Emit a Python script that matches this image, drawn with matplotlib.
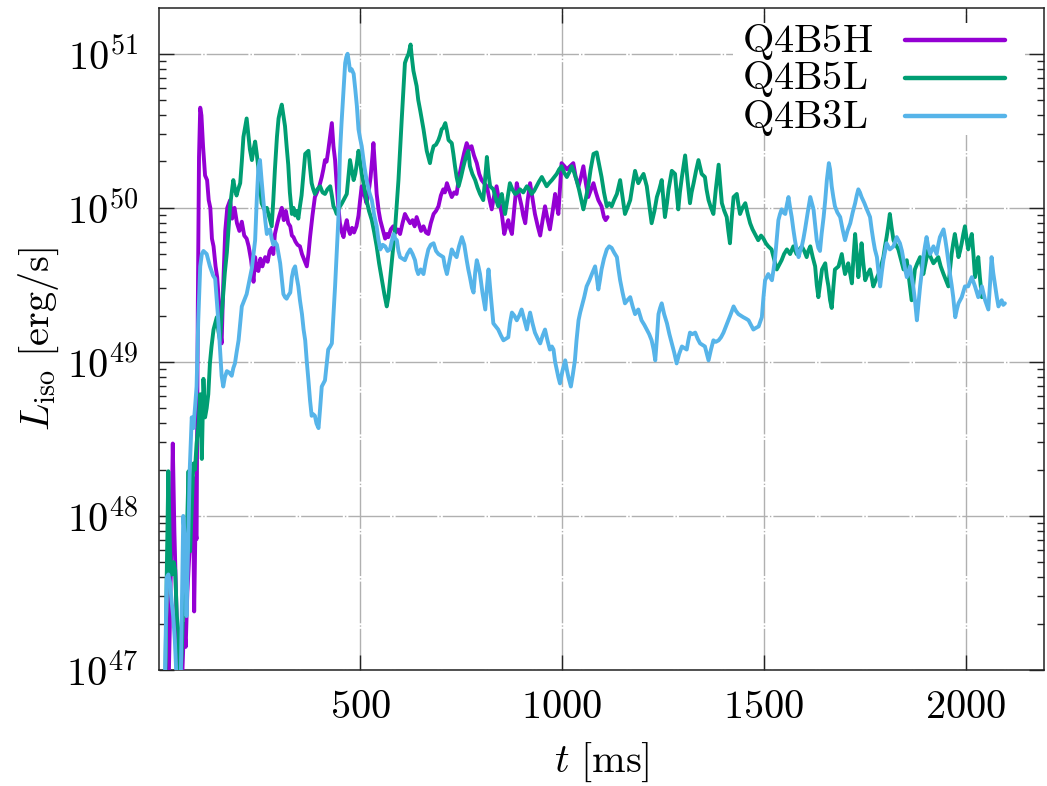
import numpy as np
import matplotlib
matplotlib.use("Agg")
import matplotlib.pyplot as plt
from matplotlib.patches import Rectangle
from matplotlib.ticker import FixedLocator, FuncFormatter, LogLocator, NullFormatter

# ---- isotropic-equivalent luminosity histories: t [ms], log10(L_iso / erg s^-1) ----
t_q4b5h = [25, 31, 36, 40, 45, 50, 54, 60, 64, 68, 72, 77, 82, 86, 89, 92, 95, 98, 101, 104,
           107, 111, 116, 121, 125, 129, 133, 137, 142, 146, 150, 154, 157, 161, 166, 171, 178, 183, 189, 195,
           201, 207, 213, 219, 224, 230, 236, 240, 244, 248, 253, 258, 265, 271, 276, 281, 285, 289, 295, 300,
           306, 311, 316, 322, 327, 331, 335, 340, 345, 351, 356, 362, 368, 372, 376, 382, 388, 393, 399, 405,
           409, 413, 417, 421, 425, 430, 434, 438, 442, 446, 450, 455, 459, 463, 467, 471, 475, 480, 485, 491,
           496, 500, 504, 508, 512, 516, 521, 526, 530, 533, 537, 541, 546, 550, 554, 558, 562, 566, 570, 576,
           582, 588, 593, 599, 605, 611, 617, 624, 630, 635, 640, 645, 651, 657, 663, 669, 675, 682, 688, 694,
           700, 706, 710, 715, 720, 727, 733, 739, 745, 752, 758, 764, 770, 776, 782, 789, 795, 801, 807, 814,
           820, 826, 832, 838, 844, 851, 857, 862, 867, 871, 876, 882, 888, 894, 900, 904, 909, 915, 921, 927,
           933, 940, 946, 952, 958, 964, 970, 977, 983, 987, 991, 995, 999, 1006, 1012, 1020, 1028, 1034, 1041, 1047,
           1053, 1059, 1065, 1072, 1078, 1084, 1090, 1098, 1104, 1108, 1113]
lg_q4b5h = [46.8, 47.6, 48.47, 47.9, 47.4, 47.0, 46.8, 47.0, 47.3, 47.15, 47.5, 47.75, 47.9, 48.25, 47.38, 47.9, 47.85, 49.34, 50.33, 50.65,
            50.6, 50.4, 50.21, 50.18, 50.05, 50.0, 49.8, 49.75, 49.62, 49.55, 49.4, 49.2, 49.12, 49.5, 49.85, 50.0, 50.05, 49.93, 50.0, 49.9,
            49.85, 49.91, 49.82, 49.8, 49.75, 49.66, 49.52, 49.68, 49.6, 49.59, 49.67, 49.62, 49.68, 49.65, 49.72, 49.74, 49.7, 49.83, 49.9, 49.95,
            50.0, 49.92, 49.98, 49.9, 49.88, 49.82, 49.81, 49.78, 49.76, 49.75, 49.7, 49.66, 49.62, 49.7, 49.81, 49.95, 50.07, 50.1, 50.14, 50.2,
            50.25, 50.31, 50.3, 50.37, 50.45, 50.55, 50.4, 50.31, 50.15, 50.01, 49.9, 49.84, 49.81, 49.88, 49.92, 49.86, 49.83, 49.87, 49.84, 49.88,
            49.95, 50.05, 50.14, 50.1, 50.07, 50.03, 50.1, 50.2, 50.32, 50.42, 50.25, 50.09, 49.98, 49.92, 49.88, 49.84, 49.8, 49.83, 49.81, 49.86,
            49.88, 49.84, 49.86, 49.83, 49.9, 49.96, 49.93, 49.9, 49.92, 49.88, 49.94, 49.9, 49.85, 49.88, 49.84, 49.83, 49.9, 49.96, 49.98, 50.01,
            50.08, 50.12, 50.1, 50.16, 50.12, 50.07, 50.1, 50.09, 50.2, 50.29, 50.36, 50.42, 50.38, 50.4, 50.34, 50.29, 50.22, 50.18, 50.16, 50.14,
            50.06, 49.99, 50.08, 50.14, 50.05, 49.96, 49.83, 49.88, 49.92, 49.87, 49.83, 50.0, 50.16, 50.08, 50.01, 49.95, 49.9, 50.05, 50.16, 50.06,
            49.96, 49.88, 49.82, 49.92, 50.01, 49.93, 49.86, 49.98, 50.09, 50.02, 49.96, 50.12, 50.29, 50.27, 50.25, 50.27, 50.29, 50.2, 50.14, 50.2,
            50.27, 50.16, 50.07, 50.12, 50.16, 50.1, 50.05, 50.01, 49.94, 49.92, 49.94]

t_q4b5l = [17, 21, 25, 28, 31, 34, 38, 42, 46, 50, 54, 58, 62, 67, 71, 75, 79, 83, 87, 91,
           95, 100, 104, 108, 112, 116, 120, 124, 128, 132, 137, 141, 145, 149, 153, 157, 161, 165, 170, 174,
           178, 182, 186, 190, 194, 198, 203, 207, 211, 215, 219, 223, 227, 232, 236, 240, 244, 248, 252, 256,
           261, 265, 269, 273, 277, 281, 285, 289, 294, 298, 302, 306, 310, 314, 318, 322, 326, 331, 335, 339,
           343, 347, 351, 355, 359, 364, 368, 372, 376, 380, 384, 388, 394, 401, 407, 413, 419, 426, 430, 434,
           438, 442, 448, 455, 461, 467, 471, 475, 479, 484, 488, 492, 496, 500, 504, 510, 516, 522, 529, 535,
           541, 547, 554, 560, 566, 570, 574, 580, 587, 591, 595, 599, 603, 607, 611, 615, 620, 625, 628, 632,
           636, 640, 644, 649, 653, 657, 661, 665, 669, 673, 677, 682, 688, 694, 698, 702, 706, 711, 715, 719,
           723, 727, 731, 735, 739, 744, 750, 756, 762, 768, 772, 778, 785, 791, 797, 805, 810, 814, 818, 822,
           830, 836, 842, 846, 851, 855, 859, 865, 871, 877, 884, 890, 896, 904, 913, 919, 925, 931, 937, 943,
           950, 956, 962, 968, 975, 981, 987, 993, 999, 1005, 1012, 1018, 1024, 1030, 1036, 1042, 1048, 1053, 1059, 1065,
           1071, 1078, 1086, 1092, 1098, 1104, 1111, 1117, 1123, 1129, 1136, 1144, 1150, 1156, 1162, 1169, 1175, 1181, 1189, 1195,
           1202, 1210, 1216, 1222, 1229, 1235, 1241, 1247, 1255, 1260, 1264, 1272, 1280, 1284, 1288, 1292, 1297, 1305, 1311, 1317,
           1321, 1326, 1332, 1338, 1346, 1354, 1358, 1363, 1369, 1375, 1381, 1388, 1392, 1396, 1402, 1408, 1412, 1416, 1420, 1425,
           1433, 1437, 1441, 1447, 1454, 1460, 1466, 1472, 1478, 1486, 1493, 1499, 1505, 1511, 1519, 1526, 1532, 1538, 1544, 1550,
           1557, 1565, 1573, 1581, 1588, 1594, 1600, 1606, 1610, 1615, 1621, 1627, 1631, 1635, 1640, 1644, 1652, 1656, 1660, 1664,
           1668, 1672, 1676, 1685, 1693, 1697, 1701, 1705, 1709, 1714, 1718, 1722, 1726, 1730, 1734, 1738, 1742, 1746, 1751, 1757,
           1763, 1767, 1771, 1777, 1784, 1790, 1796, 1800, 1804, 1808, 1812, 1816, 1821, 1827, 1833, 1840, 1846, 1850, 1854, 1860,
           1866, 1870, 1874, 1880, 1887, 1891, 1895, 1901, 1907, 1913, 1920, 1926, 1932, 1938, 1945, 1951, 1957, 1961, 1965, 1969,
           1973, 1978, 1982, 1986, 1990, 1994, 1998, 2002, 2006, 2010, 2015, 2019, 2023, 2027, 2031, 2035, 2040]
lg_q4b5l = [46.8, 47.6, 48.29, 47.9, 47.62, 47.62, 47.7, 47.65, 47.35, 47.25, 46.9, 47.1, 47.42, 47.7, 47.89, 48.29, 47.77, 48.05, 48.34, 48.3,
            48.47, 48.6, 48.79, 48.37, 48.89, 48.64, 48.7, 48.79, 48.99, 49.1, 49.21, 49.25, 49.29, 49.2, 49.14, 49.3, 49.44, 49.58, 49.71, 49.86,
            50.01, 50.1, 50.18, 50.12, 50.08, 50.12, 50.16, 50.3, 50.46, 50.52, 50.58, 50.48, 50.38, 50.31, 50.38, 50.43, 50.35, 50.26, 50.15, 50.03,
            50.0, 49.98, 50.0, 49.96, 49.92, 49.88, 50.05, 50.25, 50.46, 50.58, 50.63, 50.67, 50.6, 50.53, 50.4, 50.28, 50.1, 49.96, 50.0, 49.95,
            49.98, 49.93, 50.01, 50.08, 50.2, 50.35, 50.36, 50.37, 50.26, 50.16, 50.12, 50.09, 50.12, 50.14, 50.1, 50.09, 50.12, 50.14, 50.08, 50.01,
            49.99, 49.96, 50.0, 50.03, 50.06, 50.09, 50.2, 50.31, 50.25, 50.18, 50.22, 50.29, 50.37, 50.3, 50.22, 50.14, 50.05, 49.98, 49.92, 49.84,
            49.75, 49.64, 49.53, 49.44, 49.36, 49.42, 49.53, 49.7, 49.88, 50.03, 50.18, 50.38, 50.57, 50.76, 50.94, 50.97, 51.0, 51.06, 50.98, 50.89,
            50.84, 50.79, 50.7, 50.63, 50.57, 50.51, 50.44, 50.37, 50.33, 50.29, 50.35, 50.4, 50.41, 50.44, 50.47, 50.51, 50.52, 50.55, 50.5, 50.44,
            50.43, 50.42, 50.35, 50.27, 50.2, 50.14, 50.2, 50.27, 50.33, 50.37, 50.27, 50.22, 50.18, 50.13, 50.09, 50.05, 50.2, 50.33, 50.22, 50.14,
            50.12, 50.06, 50.01, 50.05, 50.09, 50.02, 49.96, 50.06, 50.16, 50.12, 50.09, 50.1, 50.12, 50.1, 50.14, 50.12, 50.09, 50.11, 50.14, 50.17,
            50.2, 50.17, 50.14, 50.16, 50.18, 50.2, 50.22, 50.25, 50.27, 50.23, 50.2, 50.23, 50.27, 50.23, 50.18, 50.12, 50.05, 49.99, 50.06, 50.14,
            50.25, 50.35, 50.36, 50.28, 50.2, 50.1, 50.01, 50.03, 50.01, 50.05, 50.09, 50.18, 50.07, 49.96, 50.0, 50.05, 50.15, 50.24, 50.16, 50.19,
            50.22, 50.14, 50.02, 49.9, 49.98, 50.07, 50.12, 50.18, 49.94, 50.03, 50.12, 50.24, 50.22, 50.1, 49.99, 50.1, 50.2, 50.34, 50.18, 50.03,
            50.1, 50.16, 50.24, 50.31, 50.22, 50.2, 50.12, 50.05, 50.0, 49.96, 50.12, 50.28, 50.15, 50.03, 49.98, 49.94, 49.85, 49.77, 49.92, 50.07,
            50.09, 50.02, 49.96, 50.0, 50.03, 49.96, 49.9, 49.86, 49.83, 49.79, 49.82, 49.8, 49.77, 49.75, 49.73, 49.66, 49.6, 49.63, 49.66, 49.7,
            49.73, 49.7, 49.75, 49.7, 49.73, 49.75, 49.72, 49.68, 49.72, 49.75, 49.68, 49.62, 49.5, 49.42, 49.52, 49.6, 49.64, 49.55, 49.49, 49.4,
            49.35, 49.48, 49.6, 49.62, 49.7, 49.63, 49.57, 49.6, 49.64, 49.57, 49.51, 49.68, 49.83, 49.7, 49.55, 49.65, 49.77, 49.65, 49.53, 49.57,
            49.6, 49.55, 49.49, 49.53, 49.57, 49.62, 49.68, 49.75, 49.81, 49.88, 49.96, 49.88, 49.79, 49.76, 49.73, 49.66, 49.6, 49.63, 49.66, 49.53,
            49.4, 49.5, 49.6, 49.64, 49.68, 49.62, 49.57, 49.65, 49.73, 49.68, 49.64, 49.66, 49.68, 49.62, 49.57, 49.53, 49.49, 49.6, 49.7, 49.77,
            49.83, 49.75, 49.68, 49.72, 49.77, 49.83, 49.88, 49.8, 49.73, 49.78, 49.83, 49.7, 49.55, 49.62, 49.68, 49.55, 49.42]

t_q4b3l = [14, 17, 21, 25, 29, 33, 37, 41, 46, 50, 55, 58, 62, 66, 70, 74, 78, 83, 87, 91,
           95, 99, 104, 108, 112, 116, 120, 124, 128, 132, 136, 141, 145, 149, 153, 157, 161, 165, 170, 176,
           182, 186, 190, 194, 199, 203, 207, 213, 219, 225, 232, 236, 240, 244, 248, 252, 256, 261, 265, 269,
           273, 277, 281, 285, 289, 294, 298, 302, 306, 310, 314, 318, 322, 327, 331, 335, 339, 343, 347, 351,
           356, 360, 364, 368, 372, 376, 380, 384, 388, 392, 397, 401, 405, 409, 413, 417, 421, 426, 430, 434,
           438, 442, 446, 450, 454, 457, 460, 463, 466, 469, 472, 475, 479, 484, 488, 492, 496, 500, 504, 510,
           516, 523, 529, 535, 541, 545, 550, 556, 562, 568, 574, 578, 583, 587, 591, 595, 599, 605, 611, 617,
           624, 630, 636, 640, 644, 650, 657, 663, 669, 675, 682, 688, 694, 700, 706, 710, 715, 721, 727, 733,
           739, 745, 752, 758, 764, 768, 772, 777, 781, 785, 789, 793, 797, 803, 810, 814, 818, 824, 830, 836,
           842, 849, 855, 861, 867, 871, 876, 882, 888, 894, 900, 906, 913, 917, 921, 927, 933, 940, 946, 952,
           958, 964, 970, 975, 979, 983, 987, 991, 995, 1001, 1008, 1012, 1016, 1022, 1027, 1032, 1036, 1041, 1045, 1049,
           1055, 1061, 1068, 1074, 1082, 1086, 1090, 1094, 1098, 1104, 1111, 1117, 1123, 1129, 1136, 1140, 1144, 1150, 1156, 1162,
           1169, 1175, 1181, 1189, 1197, 1204, 1210, 1216, 1222, 1227, 1231, 1235, 1239, 1243, 1247, 1253, 1260, 1266, 1272, 1278,
           1284, 1290, 1297, 1303, 1309, 1313, 1317, 1323, 1330, 1336, 1342, 1348, 1354, 1359, 1363, 1369, 1375, 1381, 1388, 1394,
           1400, 1406, 1412, 1418, 1425, 1431, 1437, 1443, 1449, 1456, 1462, 1468, 1474, 1480, 1487, 1491, 1495, 1499, 1503, 1507,
           1511, 1515, 1520, 1524, 1528, 1532, 1536, 1540, 1544, 1548, 1553, 1557, 1561, 1565, 1569, 1573, 1577, 1581, 1586, 1590,
           1594, 1598, 1602, 1608, 1615, 1619, 1623, 1627, 1631, 1635, 1639, 1643, 1648, 1652, 1656, 1661, 1664, 1668, 1672, 1676,
           1682, 1689, 1695, 1701, 1707, 1714, 1720, 1726, 1730, 1734, 1738, 1742, 1749, 1755, 1763, 1767, 1771, 1775, 1780, 1784,
           1788, 1792, 1796, 1804, 1812, 1821, 1829, 1837, 1842, 1846, 1850, 1854, 1862, 1866, 1870, 1875, 1879, 1883, 1887, 1891,
           1895, 1899, 1903, 1907, 1912, 1920, 1928, 1932, 1936, 1945, 1949, 1953, 1957, 1961, 1965, 1969, 1974, 1978, 1982, 1990,
           1998, 2006, 2015, 2023, 2031, 2040, 2048, 2056, 2060, 2064, 2068, 2073, 2077, 2081, 2085, 2089, 2093, 2097]
lg_q4b3l = [46.8, 47.0, 47.6, 47.62, 47.57, 47.45, 47.35, 47.2, 46.9, 46.8, 46.8, 47.3, 48.0, 47.85, 47.35, 47.8, 48.3, 48.64, 48.57, 48.7,
            48.84, 49.26, 49.62, 49.7, 49.72, 49.71, 49.7, 49.66, 49.62, 49.59, 49.56, 49.54, 49.4, 49.26, 49.08, 48.91, 48.84, 48.9, 48.94, 48.93,
            48.91, 48.96, 48.99, 49.06, 49.14, 49.25, 49.36, 49.4, 49.44, 49.52, 49.61, 49.7, 49.79, 50.05, 50.26, 50.31, 50.18, 50.03, 49.92, 49.83,
            49.85, 49.86, 49.8, 49.76, 49.78, 49.76, 49.7, 49.64, 49.54, 49.44, 49.42, 49.41, 49.43, 49.45, 49.55, 49.6, 49.62, 49.55, 49.49, 49.4,
            49.31, 49.21, 49.14, 49.0, 48.88, 48.75, 48.65, 48.66, 48.65, 48.6, 48.57, 48.7, 48.84, 48.86, 48.88, 48.98, 49.08, 49.1, 49.12, 49.3,
            49.49, 49.7, 49.92, 50.35, 50.55, 50.68, 50.82, 50.94, 50.98, 51.0, 50.95, 50.89, 50.9, 50.87, 50.77, 50.66, 50.51, 50.45, 50.4, 50.28,
            50.18, 50.1, 50.05, 49.95, 49.88, 49.8, 49.73, 49.76, 49.75, 49.72, 49.73, 49.78, 49.83, 49.8, 49.79, 49.72, 49.68, 49.67, 49.66, 49.7,
            49.73, 49.7, 49.66, 49.6, 49.57, 49.6, 49.57, 49.66, 49.73, 49.76, 49.77, 49.72, 49.7, 49.69, 49.68, 49.62, 49.57, 49.65, 49.73, 49.7,
            49.68, 49.75, 49.81, 49.76, 49.66, 49.6, 49.55, 49.48, 49.45, 49.58, 49.66, 49.62, 49.57, 49.45, 49.34, 49.48, 49.6, 49.42, 49.25, 49.23,
            49.21, 49.17, 49.14, 49.15, 49.16, 49.25, 49.32, 49.3, 49.27, 49.3, 49.34, 49.28, 49.21, 49.27, 49.32, 49.25, 49.19, 49.15, 49.12, 49.17,
            49.21, 49.14, 49.08, 49.1, 49.08, 49.0, 48.95, 48.9, 48.86, 48.94, 49.01, 48.95, 48.9, 48.84, 48.92, 49.01, 49.14, 49.27, 49.32, 49.36,
            49.42, 49.49, 49.53, 49.57, 49.62, 49.55, 49.47, 49.53, 49.6, 49.67, 49.73, 49.75, 49.74, 49.71, 49.68, 49.6, 49.53, 49.45, 49.38, 49.4,
            49.42, 49.36, 49.31, 49.34, 49.27, 49.24, 49.21, 49.18, 49.14, 49.08, 49.01, 49.15, 49.31, 49.35, 49.38, 49.31, 49.25, 49.18, 49.12, 49.06,
            48.99, 49.05, 49.1, 49.09, 49.08, 49.14, 49.19, 49.18, 49.19, 49.15, 49.12, 49.11, 49.1, 49.05, 49.01, 49.08, 49.14, 49.13, 49.14, 49.16,
            49.19, 49.23, 49.27, 49.31, 49.36, 49.33, 49.31, 49.3, 49.29, 49.28, 49.27, 49.24, 49.21, 49.22, 49.23, 49.26, 49.29, 49.42, 49.53, 49.55,
            49.57, 49.55, 49.53, 49.6, 49.68, 49.8, 49.92, 49.96, 49.99, 49.97, 49.96, 50.02, 50.07, 50.0, 49.94, 49.86, 49.79, 49.73, 49.68, 49.72,
            49.75, 49.8, 49.86, 49.96, 50.07, 50.03, 49.99, 49.89, 49.79, 49.74, 49.72, 49.83, 49.94, 50.05, 50.18, 50.29, 50.25, 50.14, 50.07, 50.01,
            49.97, 49.94, 49.86, 49.79, 49.85, 49.9, 49.97, 50.03, 50.08, 50.12, 50.1, 50.07, 50.03, 49.99, 49.94, 49.86, 49.79, 49.73, 49.68, 49.58,
            49.49, 49.58, 49.66, 49.77, 49.73, 49.75, 49.81, 49.77, 49.72, 49.66, 49.6, 49.55, 49.62, 49.55, 49.49, 49.38, 49.27, 49.38, 49.49, 49.58,
            49.68, 49.75, 49.81, 49.75, 49.7, 49.75, 49.7, 49.76, 49.81, 49.86, 49.8, 49.73, 49.65, 49.57, 49.5, 49.42, 49.29, 49.34, 49.38, 49.42,
            49.49, 49.49, 49.55, 49.49, 49.42, 49.49, 49.4, 49.34, 49.5, 49.68, 49.58, 49.49, 49.42, 49.36, 49.38, 49.4, 49.37, 49.38]

series_labels = ["Q4B5H", "Q4B5L", "Q4B3L"]
series_colors = ["#9400d3", "#009e73", "#56b4e9"]
x_ticks = [500, 1000, 1500, 2000]
y_decades = [47, 48, 49, 50, 51]

plt.rcParams["mathtext.fontset"] = "cm"
plt.rcParams["font.family"] = ["DejaVu Serif"]
FS = 29

fig = plt.figure(figsize=(10.47, 7.86), dpi=100)
ax = fig.add_axes([0.1519, 0.1476, 0.8453, 0.8422])

series = [(t_q4b5h, lg_q4b5h), (t_q4b5l, lg_q4b5l), (t_q4b3l, lg_q4b3l)]
for (tt, lg), col in zip(series, series_colors):
    ax.plot(tt, 10.0 ** np.asarray(lg), color=col, lw=2.8, solid_joinstyle="round",
            solid_capstyle="round", zorder=3)

ax.set_yscale("log")
ax.set_xlim(2, 2194)
ax.set_ylim(1e47, 10 ** 51.297)

ax.xaxis.set_major_locator(FixedLocator(x_ticks))
ax.xaxis.set_major_formatter(FuncFormatter(lambda v, p: r"$%d$" % v))
ax.yaxis.set_major_locator(FixedLocator([10.0 ** d for d in y_decades]))
ax.yaxis.set_major_formatter(FuncFormatter(lambda v, p: r"$10^{%d}$" % round(np.log10(v))))
ax.yaxis.set_minor_locator(LogLocator(base=10, subs=np.arange(2, 10), numticks=20))
ax.yaxis.set_minor_formatter(NullFormatter())

ax.tick_params(which="both", direction="in", top=True, right=True, width=1.0, colors="#222222",
               labelcolor="black", labelsize=FS)
ax.tick_params(which="major", length=10.5)
ax.tick_params(which="minor", length=5.2)
ax.tick_params(axis="x", which="major", pad=14)
ax.tick_params(axis="y", which="major", pad=15)

ax.grid(True, which="major", color="#b0b0b0", lw=1.0, ls=(0, (30, 1.5, 1, 1.5)), zorder=0)
ax.set_axisbelow(True)
for s in ax.spines.values():
    s.set_linewidth(1.1)
    s.set_color("#222222")

ax.set_xlabel(r"$t\ [\mathrm{ms}]$", fontsize=FS, labelpad=10)
ax.set_ylabel(r"$L_{\mathrm{iso}}\ [\mathrm{erg/s}]$", fontsize=FS, labelpad=4)

# key in the upper right on an opaque background that hides the grid behind it
ax.add_patch(Rectangle((0.6486, 0.808), 0.33, 0.169, transform=ax.transAxes,
                       facecolor="white", edgecolor="none", zorder=0.8))
key_text_x = 0.6584
key_line_x = (0.8429, 0.9559)
key_base_y = [0.934, 0.877, 0.8192]
key_line_y = [0.9517, 0.8943, 0.8369]
for lab, col, yb, yl in zip(series_labels, series_colors, key_base_y, key_line_y):
    ax.text(key_text_x, yb, r"$\mathrm{%s}$" % lab, transform=ax.transAxes,
            ha="left", va="baseline", fontsize=FS, zorder=5)
    ax.plot(key_line_x, [yl, yl], transform=ax.transAxes, color=col, lw=3.2,
            solid_capstyle="round", zorder=5)

fig.savefig("out.png", dpi=100)
